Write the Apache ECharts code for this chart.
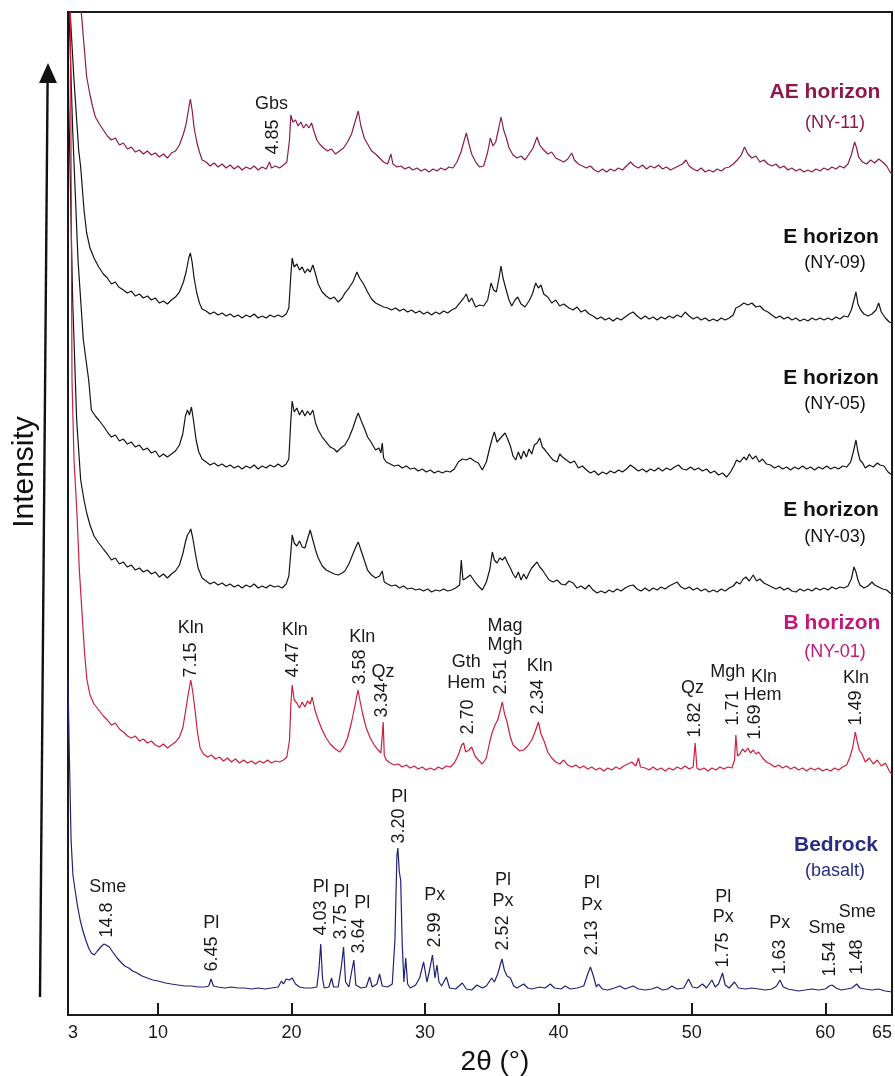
<!DOCTYPE html>
<html><head><meta charset="utf-8">
<script src="https://cdn.jsdelivr.net/npm/echarts@6/dist/echarts.min.js"></script>
<style>html,body{margin:0;padding:0;background:#fff}#c{width:895px;height:1076px}</style>
</head><body><div id="c"></div>
<script>
// x tick positions / labels (left frame edge is labelled "3")
const tickValues = [3.25,10,20,30,40,50,60,65];
const tickLabels = ['3','10','20','30','40','50','60','65'];
const innerTicks = [10,20,30,40,50,60];

// intensity (stacked, arbitrary units) vs 2θ
const ae = [[3.25,1200],[3.8,1080],[4.2,995],[4.45,955],[4.65,923],[4.9,905],[5.1,893],[5.3,883],[5.6,876],[5.9,870],[6.2,864],[6.5,860],[6.8,862],[7.1,855],[7.4,857],[7.7,851],[8.0,853],[8.3,848],[8.6,850],[8.9,846],[9.2,849],[9.5,845],[9.8,847],[10.1,843],[10.4,846],[10.7,842],[11.0,847],[11.3,849],[11.6,855],[11.9,866],[12.1,876],[12.3,892],[12.42,901],[12.55,890],[12.7,872],[12.9,858],[13.1,848],[13.3,840],[13.6,838],[13.9,834],[14.2,837],[14.5,833],[14.8,836],[15.1,832],[15.4,835],[15.7,831],[16.0,834],[16.3,830],[16.6,833],[16.9,831],[17.2,834],[17.5,830],[17.8,833],[18.1,831],[18.35,838],[18.5,832],[18.8,834],[19.1,832],[19.4,835],[19.65,838],[19.85,860],[19.95,885],[20.1,878],[20.3,880],[20.5,874],[20.7,878],[20.9,872],[21.1,876],[21.3,872],[21.5,877],[21.7,868],[21.9,860],[22.1,856],[22.4,852],[22.7,849],[23.0,851],[23.3,846],[23.6,849],[23.9,852],[24.2,858],[24.5,866],[24.8,880],[25.0,889],[25.2,874],[25.45,862],[25.7,856],[26.0,849],[26.3,846],[26.6,842],[26.9,838],[27.2,836],[27.45,846],[27.6,836],[27.9,833],[28.2,834],[28.5,831],[28.8,833],[29.1,830],[29.4,832],[29.7,829],[30.0,831],[30.3,828],[30.6,831],[30.9,829],[31.2,832],[31.5,830],[31.8,833],[32.1,832],[32.4,838],[32.7,848],[32.95,860],[33.1,867],[33.3,856],[33.5,846],[33.8,838],[34.1,833],[34.4,834],[34.7,848],[34.9,862],[35.1,854],[35.3,858],[35.5,870],[35.7,883],[35.9,870],[36.1,862],[36.3,852],[36.6,845],[36.9,842],[37.2,844],[37.5,840],[37.8,846],[38.1,852],[38.4,863],[38.6,855],[38.9,850],[39.2,846],[39.5,848],[39.8,842],[40.1,840],[40.4,838],[40.7,841],[41.0,847],[41.2,840],[41.5,836],[41.8,834],[42.1,832],[42.4,834],[42.7,830],[43.0,828],[43.3,831],[43.6,828],[43.9,831],[44.2,829],[44.5,832],[44.8,830],[45.1,834],[45.4,838],[45.7,834],[46.0,832],[46.3,835],[46.6,831],[46.9,834],[47.2,832],[47.5,835],[47.8,831],[48.1,833],[48.4,830],[48.7,832],[49.0,834],[49.3,836],[49.55,840],[49.8,834],[50.1,831],[50.4,829],[50.7,832],[51.0,828],[51.3,830],[51.6,828],[51.9,831],[52.2,829],[52.5,832],[52.8,833],[53.1,836],[53.4,840],[53.7,845],[53.95,853],[54.2,846],[54.5,842],[54.8,844],[55.1,838],[55.4,840],[55.7,836],[56.0,834],[56.3,836],[56.6,832],[56.9,834],[57.2,830],[57.5,832],[57.8,829],[58.1,831],[58.4,828],[58.7,830],[59.0,828],[59.3,831],[59.6,829],[59.9,832],[60.2,830],[60.5,833],[60.8,831],[61.1,834],[61.4,832],[61.7,836],[61.95,845],[62.2,858],[62.35,852],[62.5,843],[62.8,838],[63.1,836],[63.4,840],[63.7,837],[64.0,841],[64.3,838],[64.6,834],[64.85,828],[65.0,826]];

const e09 = [[3.25,1150],[3.4,990],[3.5,967],[3.7,920],[3.9,880],[4.05,850],[4.2,833],[4.45,790],[4.65,767],[4.9,752],[5.2,742],[5.55,733],[5.9,726],[6.2,722],[6.5,716],[6.8,718],[7.05,713],[7.4,710],[7.7,707],[8.0,709],[8.3,704],[8.6,706],[8.9,702],[9.2,704],[9.5,700],[9.8,702],[10.1,697],[10.4,699],[10.7,696],[11.0,700],[11.3,703],[11.6,708],[11.9,718],[12.1,728],[12.3,742],[12.42,747],[12.55,738],[12.7,722],[12.9,707],[13.1,697],[13.3,691],[13.6,689],[13.9,686],[14.2,688],[14.5,685],[14.8,687],[15.1,684],[15.4,686],[15.7,683],[16.0,685],[16.3,682],[16.6,685],[16.9,683],[17.2,686],[17.5,682],[17.8,684],[18.1,682],[18.4,685],[18.7,683],[19.0,685],[19.3,683],[19.6,686],[19.8,692],[19.95,725],[20.05,742],[20.2,733],[20.4,736],[20.6,730],[20.8,733],[21.0,727],[21.2,731],[21.4,728],[21.6,735],[21.8,726],[22.0,716],[22.3,708],[22.6,704],[22.9,701],[23.2,703],[23.5,698],[23.8,702],[24.0,707],[24.3,712],[24.6,718],[24.9,728],[25.1,722],[25.4,716],[25.7,708],[26.0,701],[26.3,697],[26.6,695],[26.9,693],[27.2,692],[27.5,690],[27.8,692],[28.1,689],[28.4,691],[28.7,688],[29.0,690],[29.3,687],[29.6,689],[29.9,686],[30.2,688],[30.5,685],[30.8,688],[31.1,686],[31.4,689],[31.7,687],[32.0,690],[32.3,692],[32.6,697],[32.9,702],[33.1,706],[33.3,698],[33.5,702],[33.8,693],[34.1,695],[34.4,694],[34.7,700],[34.95,717],[35.15,710],[35.35,708],[35.55,722],[35.7,734],[35.85,722],[36.05,712],[36.3,700],[36.5,694],[36.75,700],[36.95,703],[37.2,696],[37.5,693],[37.8,699],[38.05,706],[38.3,717],[38.5,712],[38.7,715],[38.9,706],[39.2,703],[39.5,697],[39.8,700],[40.1,694],[40.4,696],[40.8,692],[41.1,690],[41.4,693],[41.7,688],[42.0,690],[42.3,686],[42.6,684],[42.9,681],[43.2,683],[43.5,680],[43.8,682],[44.1,679],[44.4,682],[44.7,680],[45.0,683],[45.3,686],[45.6,688],[45.9,684],[46.2,681],[46.5,684],[46.8,681],[47.1,683],[47.4,680],[47.7,683],[48.0,681],[48.3,684],[48.6,682],[48.9,685],[49.2,683],[49.5,688],[49.8,684],[50.1,681],[50.4,683],[50.7,680],[51.0,682],[51.3,679],[51.6,681],[51.9,679],[52.2,682],[52.5,680],[52.8,682],[53.1,685],[53.3,692],[53.6,694],[53.9,697],[54.2,695],[54.5,697],[54.8,693],[55.1,694],[55.4,690],[55.7,688],[56.0,685],[56.3,682],[56.6,684],[56.9,681],[57.2,683],[57.5,680],[57.8,682],[58.1,679],[58.4,681],[58.7,679],[59.0,682],[59.3,680],[59.6,682],[59.9,680],[60.2,682],[60.5,680],[60.8,683],[61.1,681],[61.4,684],[61.7,683],[61.95,690],[62.15,700],[62.3,708],[62.45,696],[62.65,690],[62.9,686],[63.2,684],[63.5,686],[63.8,690],[64.0,697],[64.2,688],[64.5,682],[64.8,678],[65.0,677]];

const e05 = [[3.25,1100],[3.3,1000],[3.6,870],[4.0,740],[4.4,660],[4.8,620],[5.0,590],[5.3,584],[5.55,580],[5.9,574],[6.2,568],[6.5,563],[6.8,565],[7.1,559],[7.4,561],[7.7,556],[8.0,558],[8.3,553],[8.6,555],[8.9,550],[9.2,552],[9.5,547],[9.8,549],[10.1,543],[10.4,546],[10.7,543],[11.0,546],[11.3,549],[11.6,555],[11.85,566],[12.05,584],[12.2,590],[12.35,585],[12.5,593],[12.65,580],[12.85,560],[13.05,548],[13.3,541],[13.6,538],[13.9,535],[14.2,537],[14.5,534],[14.8,536],[15.1,533],[15.4,535],[15.7,532],[16.0,534],[16.3,531],[16.6,534],[16.9,532],[17.2,535],[17.5,531],[17.8,534],[18.1,532],[18.4,535],[18.7,533],[19.0,536],[19.3,533],[19.6,536],[19.8,541],[19.95,580],[20.05,599],[20.2,588],[20.4,592],[20.6,585],[20.8,590],[21.0,584],[21.2,589],[21.4,585],[21.6,590],[21.8,577],[22.0,570],[22.3,563],[22.6,558],[22.9,553],[23.2,551],[23.4,548],[23.7,552],[24.0,555],[24.3,562],[24.6,572],[24.85,582],[25.0,587],[25.2,580],[25.45,572],[25.7,563],[26.0,557],[26.3,550],[26.55,552],[26.7,547],[26.8,557],[26.9,542],[27.1,538],[27.4,536],[27.7,534],[28.0,535],[28.3,532],[28.6,534],[28.9,531],[29.2,532],[29.5,529],[29.8,531],[30.1,528],[30.4,530],[30.7,527],[31.0,529],[31.3,527],[31.6,529],[31.9,528],[32.2,531],[32.5,538],[32.8,541],[33.1,540],[33.4,542],[33.7,539],[34.0,537],[34.3,530],[34.6,538],[34.85,552],[35.05,562],[35.2,568],[35.4,558],[35.6,561],[35.8,564],[36.0,567],[36.2,561],[36.4,554],[36.6,544],[36.8,540],[37.0,548],[37.2,541],[37.4,549],[37.6,543],[37.8,551],[38.0,546],[38.2,555],[38.4,557],[38.6,562],[38.8,553],[39.0,550],[39.3,545],[39.6,540],[39.9,538],[40.1,546],[40.3,543],[40.6,540],[40.9,537],[41.2,539],[41.5,532],[41.8,534],[42.1,530],[42.4,527],[42.7,529],[43.0,525],[43.3,528],[43.6,526],[43.9,529],[44.2,527],[44.5,530],[44.8,528],[45.1,531],[45.4,535],[45.7,532],[46.0,529],[46.3,531],[46.6,528],[46.9,531],[47.2,529],[47.5,532],[47.8,529],[48.1,532],[48.4,530],[48.7,533],[49.0,535],[49.3,531],[49.6,530],[49.9,533],[50.2,530],[50.5,532],[50.8,529],[51.1,531],[51.4,527],[51.7,529],[52.0,525],[52.3,527],[52.6,523],[52.9,528],[53.15,534],[53.35,540],[53.6,538],[53.9,543],[54.1,540],[54.3,546],[54.55,541],[54.8,544],[55.05,538],[55.3,541],[55.6,536],[55.9,535],[56.2,532],[56.5,534],[56.8,531],[57.1,533],[57.4,530],[57.7,533],[58.0,531],[58.3,534],[58.6,531],[58.9,533],[59.2,530],[59.5,533],[59.8,531],[60.1,534],[60.4,531],[60.7,533],[61.0,531],[61.3,534],[61.6,533],[61.9,538],[62.1,548],[62.3,560],[62.45,548],[62.6,540],[62.8,537],[63.0,532],[63.3,535],[63.6,533],[63.9,537],[64.1,535],[64.4,534],[64.7,528],[65.0,525]];

const e03 = [[3.25,1050],[3.3,900],[3.6,700],[3.9,580],[4.2,520],[4.45,500],[4.65,487],[4.9,475],[5.2,464],[5.55,457],[5.9,451],[6.2,446],[6.5,440],[6.8,442],[7.1,436],[7.4,438],[7.7,433],[8.0,435],[8.3,430],[8.6,432],[8.9,428],[9.2,430],[9.5,426],[9.8,428],[10.1,423],[10.4,426],[10.7,422],[11.0,426],[11.3,429],[11.6,435],[11.85,446],[12.05,458],[12.2,465],[12.35,468],[12.45,471],[12.6,462],[12.8,446],[13.0,432],[13.3,422],[13.6,419],[13.9,416],[14.2,418],[14.5,415],[14.8,417],[15.1,414],[15.4,416],[15.7,413],[16.0,415],[16.3,412],[16.6,415],[16.9,413],[17.2,416],[17.5,412],[17.8,414],[18.1,412],[18.4,415],[18.7,413],[19.0,414],[19.3,412],[19.6,416],[19.8,424],[19.95,448],[20.05,465],[20.2,457],[20.4,454],[20.6,459],[20.8,453],[21.0,452],[21.2,461],[21.4,470],[21.6,460],[21.8,450],[22.0,442],[22.3,434],[22.6,430],[22.9,428],[23.2,426],[23.5,425],[23.8,427],[24.0,429],[24.3,436],[24.6,446],[24.85,454],[25.0,458],[25.2,450],[25.45,440],[25.7,430],[26.0,425],[26.3,422],[26.6,424],[26.8,429],[26.95,418],[27.2,416],[27.5,414],[27.8,415],[28.1,412],[28.4,414],[28.7,411],[29.0,412],[29.3,410],[29.6,411],[29.9,409],[30.2,411],[30.5,408],[30.8,410],[31.1,409],[31.4,411],[31.7,409],[32.0,410],[32.3,412],[32.6,415],[32.72,440],[32.85,420],[33.1,422],[33.4,425],[33.7,419],[34.0,414],[34.3,410],[34.6,418],[34.85,430],[35.05,448],[35.2,440],[35.4,437],[35.6,442],[35.8,440],[36.0,443],[36.2,437],[36.4,432],[36.6,426],[36.8,422],[37.0,428],[37.2,420],[37.4,426],[37.6,421],[37.8,427],[38.0,432],[38.2,435],[38.4,438],[38.6,433],[38.8,430],[39.0,426],[39.3,420],[39.6,418],[39.9,420],[40.2,416],[40.5,415],[40.8,419],[41.1,417],[41.4,412],[41.7,414],[42.0,411],[42.3,415],[42.6,410],[42.9,407],[43.2,409],[43.5,407],[43.8,410],[44.1,408],[44.4,411],[44.7,409],[45.0,412],[45.3,414],[45.6,415],[45.9,411],[46.2,409],[46.5,412],[46.8,409],[47.1,412],[47.4,410],[47.7,413],[48.0,411],[48.3,414],[48.6,416],[48.9,418],[49.2,413],[49.5,411],[49.8,413],[50.1,410],[50.4,412],[50.7,409],[51.0,411],[51.3,408],[51.6,410],[51.9,408],[52.2,411],[52.5,409],[52.8,412],[53.1,414],[53.35,418],[53.6,416],[53.85,421],[54.05,423],[54.3,419],[54.6,425],[54.85,419],[55.1,421],[55.4,417],[55.7,415],[56.0,413],[56.3,411],[56.6,413],[56.9,410],[57.2,412],[57.5,409],[57.8,408],[58.1,411],[58.4,409],[58.7,411],[59.0,409],[59.3,412],[59.6,410],[59.9,412],[60.2,410],[60.5,413],[60.8,411],[61.1,413],[61.4,412],[61.7,414],[61.95,421],[62.15,433],[62.3,428],[62.45,420],[62.6,415],[62.9,412],[63.2,414],[63.5,418],[63.7,415],[64.0,413],[64.3,411],[64.6,410],[64.85,407],[65.0,406]];

const bh = [[3.25,1200],[3.43,990],[3.55,620],[3.7,540],[3.92,487],[4.1,430],[4.3,387],[4.5,345],[4.67,320],[4.9,305],[5.2,296],[5.55,290],[5.9,284],[6.2,280],[6.5,275],[6.8,277],[7.1,271],[7.4,268],[7.7,264],[8.0,262],[8.3,264],[8.6,259],[8.9,261],[9.2,257],[9.5,259],[9.8,255],[10.1,253],[10.4,256],[10.7,252],[11.0,255],[11.3,258],[11.6,263],[11.85,272],[12.05,288],[12.25,305],[12.45,320],[12.6,308],[12.75,292],[12.95,268],[13.15,252],[13.4,246],[13.7,243],[14.0,245],[14.3,241],[14.6,243],[14.9,239],[15.2,242],[15.5,238],[15.8,241],[16.1,237],[16.4,240],[16.7,237],[17.0,239],[17.3,236],[17.6,239],[17.9,237],[18.2,240],[18.5,237],[18.8,239],[19.1,238],[19.4,240],[19.65,243],[19.85,260],[19.95,295],[20.05,315],[20.2,300],[20.4,297],[20.6,292],[20.8,298],[21.0,293],[21.2,299],[21.4,296],[21.55,303],[21.75,290],[22.0,280],[22.3,270],[22.6,262],[22.9,256],[23.2,252],[23.6,248],[23.9,253],[24.2,262],[24.5,278],[24.75,294],[24.98,310],[25.15,298],[25.35,285],[25.6,272],[25.9,262],[26.2,255],[26.5,250],[26.7,247],[26.8,265],[26.87,278],[26.95,245],[27.1,240],[27.4,237],[27.7,235],[28.0,236],[28.3,233],[28.6,235],[28.9,232],[29.2,234],[29.5,231],[29.8,233],[30.1,230],[30.4,232],[30.7,230],[31.0,233],[31.3,231],[31.6,234],[31.9,233],[32.2,237],[32.5,245],[32.75,255],[32.9,257],[33.05,248],[33.3,250],[33.5,253],[33.75,244],[34.0,240],[34.3,236],[34.6,242],[34.85,258],[35.05,268],[35.25,275],[35.45,280],[35.65,290],[35.8,298],[35.95,287],[36.15,278],[36.4,263],[36.6,255],[36.85,252],[37.1,249],[37.4,250],[37.7,254],[38.0,260],[38.25,268],[38.5,278],[38.7,266],[38.95,258],[39.2,248],[39.5,242],[39.8,238],[40.1,236],[40.4,240],[40.7,235],[41.0,233],[41.3,235],[41.6,232],[41.9,234],[42.2,231],[42.5,233],[42.8,230],[43.1,232],[43.4,229],[43.7,232],[44.0,230],[44.3,233],[44.6,231],[44.9,234],[45.2,236],[45.5,238],[45.8,234],[46.0,242],[46.15,233],[46.5,232],[46.8,230],[47.1,233],[47.4,230],[47.7,232],[48.0,229],[48.3,232],[48.6,230],[48.9,233],[49.2,231],[49.5,234],[49.8,231],[50.1,233],[50.25,257],[50.38,232],[50.6,230],[50.9,232],[51.2,229],[51.5,232],[51.8,230],[52.1,233],[52.4,231],[52.7,233],[53.0,232],[53.2,240],[53.3,265],[53.42,244],[53.6,246],[53.8,251],[54.0,248],[54.2,252],[54.4,247],[54.6,250],[54.8,246],[55.0,248],[55.3,242],[55.6,238],[55.9,236],[56.2,233],[56.5,235],[56.8,232],[57.1,234],[57.4,231],[57.7,233],[58.0,230],[58.3,232],[58.6,229],[58.9,232],[59.2,230],[59.5,232],[59.8,229],[60.1,231],[60.4,229],[60.7,232],[61.0,230],[61.3,233],[61.6,235],[61.85,243],[62.05,252],[62.25,268],[62.4,258],[62.55,250],[62.75,246],[63.0,238],[63.3,242],[63.6,236],[63.9,240],[64.2,234],[64.5,237],[64.8,229],[65.0,225]];

const rock = [[3.25,320],[3.35,245],[3.48,160],[3.62,125],[3.78,110],[3.95,95],[4.16,80],[4.35,70],[4.58,60],[4.8,52],[5.0,47],[5.22,45],[5.45,49],[5.7,53],[5.95,56],[6.1,55],[6.35,53],[6.6,48],[6.93,42],[7.2,38],[7.5,34],[7.8,32],[8.1,29],[8.43,27],[8.8,24],[9.2,22],[9.6,20],[10.0,19],[10.56,17],[11.0,16],[11.5,15],[12.0,14],[12.5,14],[13.0,13],[13.5,13],[13.8,14],[13.97,21],[14.15,14],[14.5,13],[15.0,12],[15.5,13],[16.0,12],[16.5,12],[17.0,11],[17.5,12],[18.0,11],[18.5,12],[19.0,13],[19.25,19],[19.4,16],[19.6,21],[19.85,20],[20.05,22],[20.3,16],[20.6,13],[21.0,12],[21.5,12],[21.9,13],[22.05,30],[22.19,56],[22.32,22],[22.45,12],[22.8,13],[23.0,22],[23.15,13],[23.5,13],[23.75,35],[23.9,53],[24.05,18],[24.3,13],[24.5,28],[24.67,40],[24.82,15],[25.2,12],[25.6,13],[25.85,23],[26.05,13],[26.4,16],[26.6,26],[26.8,14],[27.2,13],[27.55,16],[27.75,60],[27.9,145],[27.97,152],[28.08,128],[28.18,120],[28.3,55],[28.42,18],[28.56,42],[28.7,16],[28.9,12],[29.3,15],[29.6,22],[29.9,38],[30.15,18],[30.35,30],[30.56,45],[30.75,22],[30.9,35],[31.05,18],[31.25,14],[31.6,23],[31.85,12],[32.3,11],[32.8,17],[33.1,11],[33.5,10],[33.9,15],[34.3,12],[34.6,14],[35.0,22],[35.2,18],[35.45,26],[35.77,41],[35.95,30],[36.15,24],[36.4,22],[36.65,14],[36.9,12],[37.4,16],[37.7,12],[38.0,11],[38.6,13],[39.0,12],[39.4,16],[39.7,12],[40.2,11],[40.5,14],[40.9,11],[41.4,12],[41.9,14],[42.2,26],[42.4,33],[42.6,25],[42.85,13],[43.0,16],[43.3,11],[43.7,10],[44.2,12],[44.6,14],[45.0,11],[45.6,14],[46.0,11],[46.5,10],[47.0,11],[47.4,13],[47.8,10],[48.2,11],[48.5,14],[48.9,11],[49.4,12],[49.75,21],[50.05,13],[50.4,12],[50.8,16],[51.1,12],[51.5,20],[51.75,13],[52.0,16],[52.3,27],[52.5,15],[52.8,12],[53.2,18],[53.5,12],[54.0,11],[54.5,12],[55.0,11],[55.5,10],[56.0,11],[56.35,14],[56.6,20],[56.85,13],[57.2,11],[57.6,10],[58.0,9],[58.5,10],[59.0,11],[59.5,10],[60.0,11],[60.3,14],[60.5,15],[60.8,12],[61.2,10],[61.6,11],[62.0,12],[62.35,16],[62.6,12],[63.0,11],[63.5,10],[64.0,11],[64.5,9],[65.0,8]];

// peak annotations: [2θ, level, text]
const phaseLabels = [
  [18.5,896,'Gbs'],
  [12.45,372,'Kln'],[20.25,370,'Kln'],[25.3,363,'Kln'],[26.85,328,'Qz'],
  [33.1,338,'Gth'],[33.1,317,'Hem'],[36.0,374,'Mag'],[36.0,355,'Mgh'],[38.6,334,'Kln'],
  [50.05,312,'Qz'],[52.7,328,'Mgh'],[55.4,323,'Kln'],[55.3,305,'Hem'],[62.3,322,'Kln'],
  [6.23,113,'Sme'],[13.98,77,'Pl'],[22.19,113,'Pl'],[23.72,108,'Pl'],[25.3,97,'Pl'],
  [28.08,203,'Pl'],[30.73,105,'Px'],[35.85,120,'Pl'],[35.85,99,'Px'],
  [42.5,117,'Pl'],[42.5,95,'Px'],[52.35,103,'Pl'],[52.35,83,'Px'],
  [56.58,77,'Px'],[60.13,72,'Sme'],[62.39,88,'Sme']
];
const dLabels = [
  [18.63,863,'4.85'],
  [12.45,340,'7.15'],[20.13,340,'4.47'],[25.1,333,'3.58'],[26.75,300,'3.34'],
  [33.2,283,'2.70'],[35.7,323,'2.51'],[38.5,303,'2.34'],[50.27,280,'1.82'],
  [53.06,292,'1.71'],[54.7,278,'1.69'],[62.3,292,'1.49'],
  [6.15,80,'14.8'],[14.06,46,'6.45'],[22.19,82,'4.03'],[23.72,78,'3.75'],
  [25.09,64,'3.64'],[28.08,174,'3.20'],[30.73,70,'2.99'],[35.85,67,'2.52'],
  [42.5,62,'2.13'],[52.35,50,'1.75'],[56.58,43,'1.63'],[60.34,41,'1.54'],[62.35,43,'1.48']
];

const sampleNames = ['AE horizon','E horizon','E horizon','E horizon','B horizon','Bedrock'];
const sampleIds = ['(NY-11)','(NY-09)','(NY-05)','(NY-03)','(NY-01)','(basalt)'];

const FONT = '"Liberation Sans", Arial, sans-serif';
const traceColors = ['#8c1c4b','#141414','#141414','#141414','#cc1f3c','#1f2277'];
const nameColors  = ['#8b1a4a','#111111','#111111','#111111','#c2187a','#2a2d84'];
const traces = [ae, e09, e05, e03, bh, rock];

const series = traces.map((d,i)=>({
  type:'line', data:d, showSymbol:false, symbol:'none', clip:true, silent:true,
  lineStyle:{width:1.2, color:traceColors[i]}, z:3, animation:false
}));
function labelSeries(arr, rot){
  return {type:'scatter', data:arr.map(a=>({value:[a[0],a[1]], name:a[2]})),
    symbolSize:1, itemStyle:{color:'rgba(0,0,0,0)', opacity:1}, silent:true, z:6, animation:false,
    label:{show:true, position:'inside', rotate:rot, formatter:p=>p.name, opacity:1,
      textBorderWidth:0, fontSize:18, color:'#1a1a1a', fontFamily:FONT}};
}
series.push(labelSeries(phaseLabels,0));
series.push(labelSeries(dLabels,90));

// sample name labels (pixel layout)
const nameY = [[92,123],[237,263],[378,404],[510,537],[623,652],[845,871]];
const nameX = [825,831,831,831,832,836];
const graphics = [];
sampleNames.forEach((n,i)=>{
  graphics.push({type:'text', x:nameX[i], y:nameY[i][0], style:{text:n, align:'center', verticalAlign:'middle',
    fontSize:21, fontWeight:'bold', fontFamily:FONT, fill:nameColors[i]}});
  graphics.push({type:'text', x:835, y:nameY[i][1], style:{text:sampleIds[i], align:'center', verticalAlign:'middle',
    fontSize:18, fontFamily:FONT, fill:nameColors[i]}});
});
graphics.push({type:'line', shape:{x1:40, y1:997, x2:47.6, y2:80}, style:{stroke:'#111', lineWidth:2.4}});
graphics.push({type:'polygon', shape:{points:[[48,63],[39,83],[57,83]]}, style:{fill:'#111'}});
graphics.push({type:'text', x:25, y:472, rotation:Math.PI/2, style:{text:'Intensity', align:'center', verticalAlign:'middle',
  fontSize:30, fontFamily:FONT, fill:'#111'}});
graphics.push({type:'text', x:495, y:1062, style:{text:'2θ (°)', align:'center', verticalAlign:'middle',
  fontSize:28, fontFamily:FONT, fill:'#111'}});

const chart = echarts.init(document.getElementById('c'), null, {renderer:'canvas'});
chart.setOption({
  animation:false,
  backgroundColor:'#fff',
  grid:{left:68, top:12, width:825, height:1003, show:true, borderColor:'#1a1a1a', borderWidth:2, backgroundColor:'transparent'},
  xAxis:{type:'value', min:3.25, max:65,
    axisLine:{show:true, onZero:false, lineStyle:{color:'#1a1a1a', width:2}},
    axisTick:{show:true, inside:true, length:12, customValues:innerTicks, lineStyle:{color:'#1a1a1a', width:2}},
    axisLabel:{show:true, customValues:tickValues, margin:9, fontSize:18, color:'#1a1a1a', fontFamily:FONT,
      formatter:v=>tickLabels[tickValues.indexOf(v)] ?? String(v), alignMinLabel:'left', alignMaxLabel:'right'},
    splitLine:{show:false}},
  yAxis:{type:'value', min:-15, max:988, show:false, splitLine:{show:false}},
  series:series,
  graphic:graphics
});
</script></body></html>
